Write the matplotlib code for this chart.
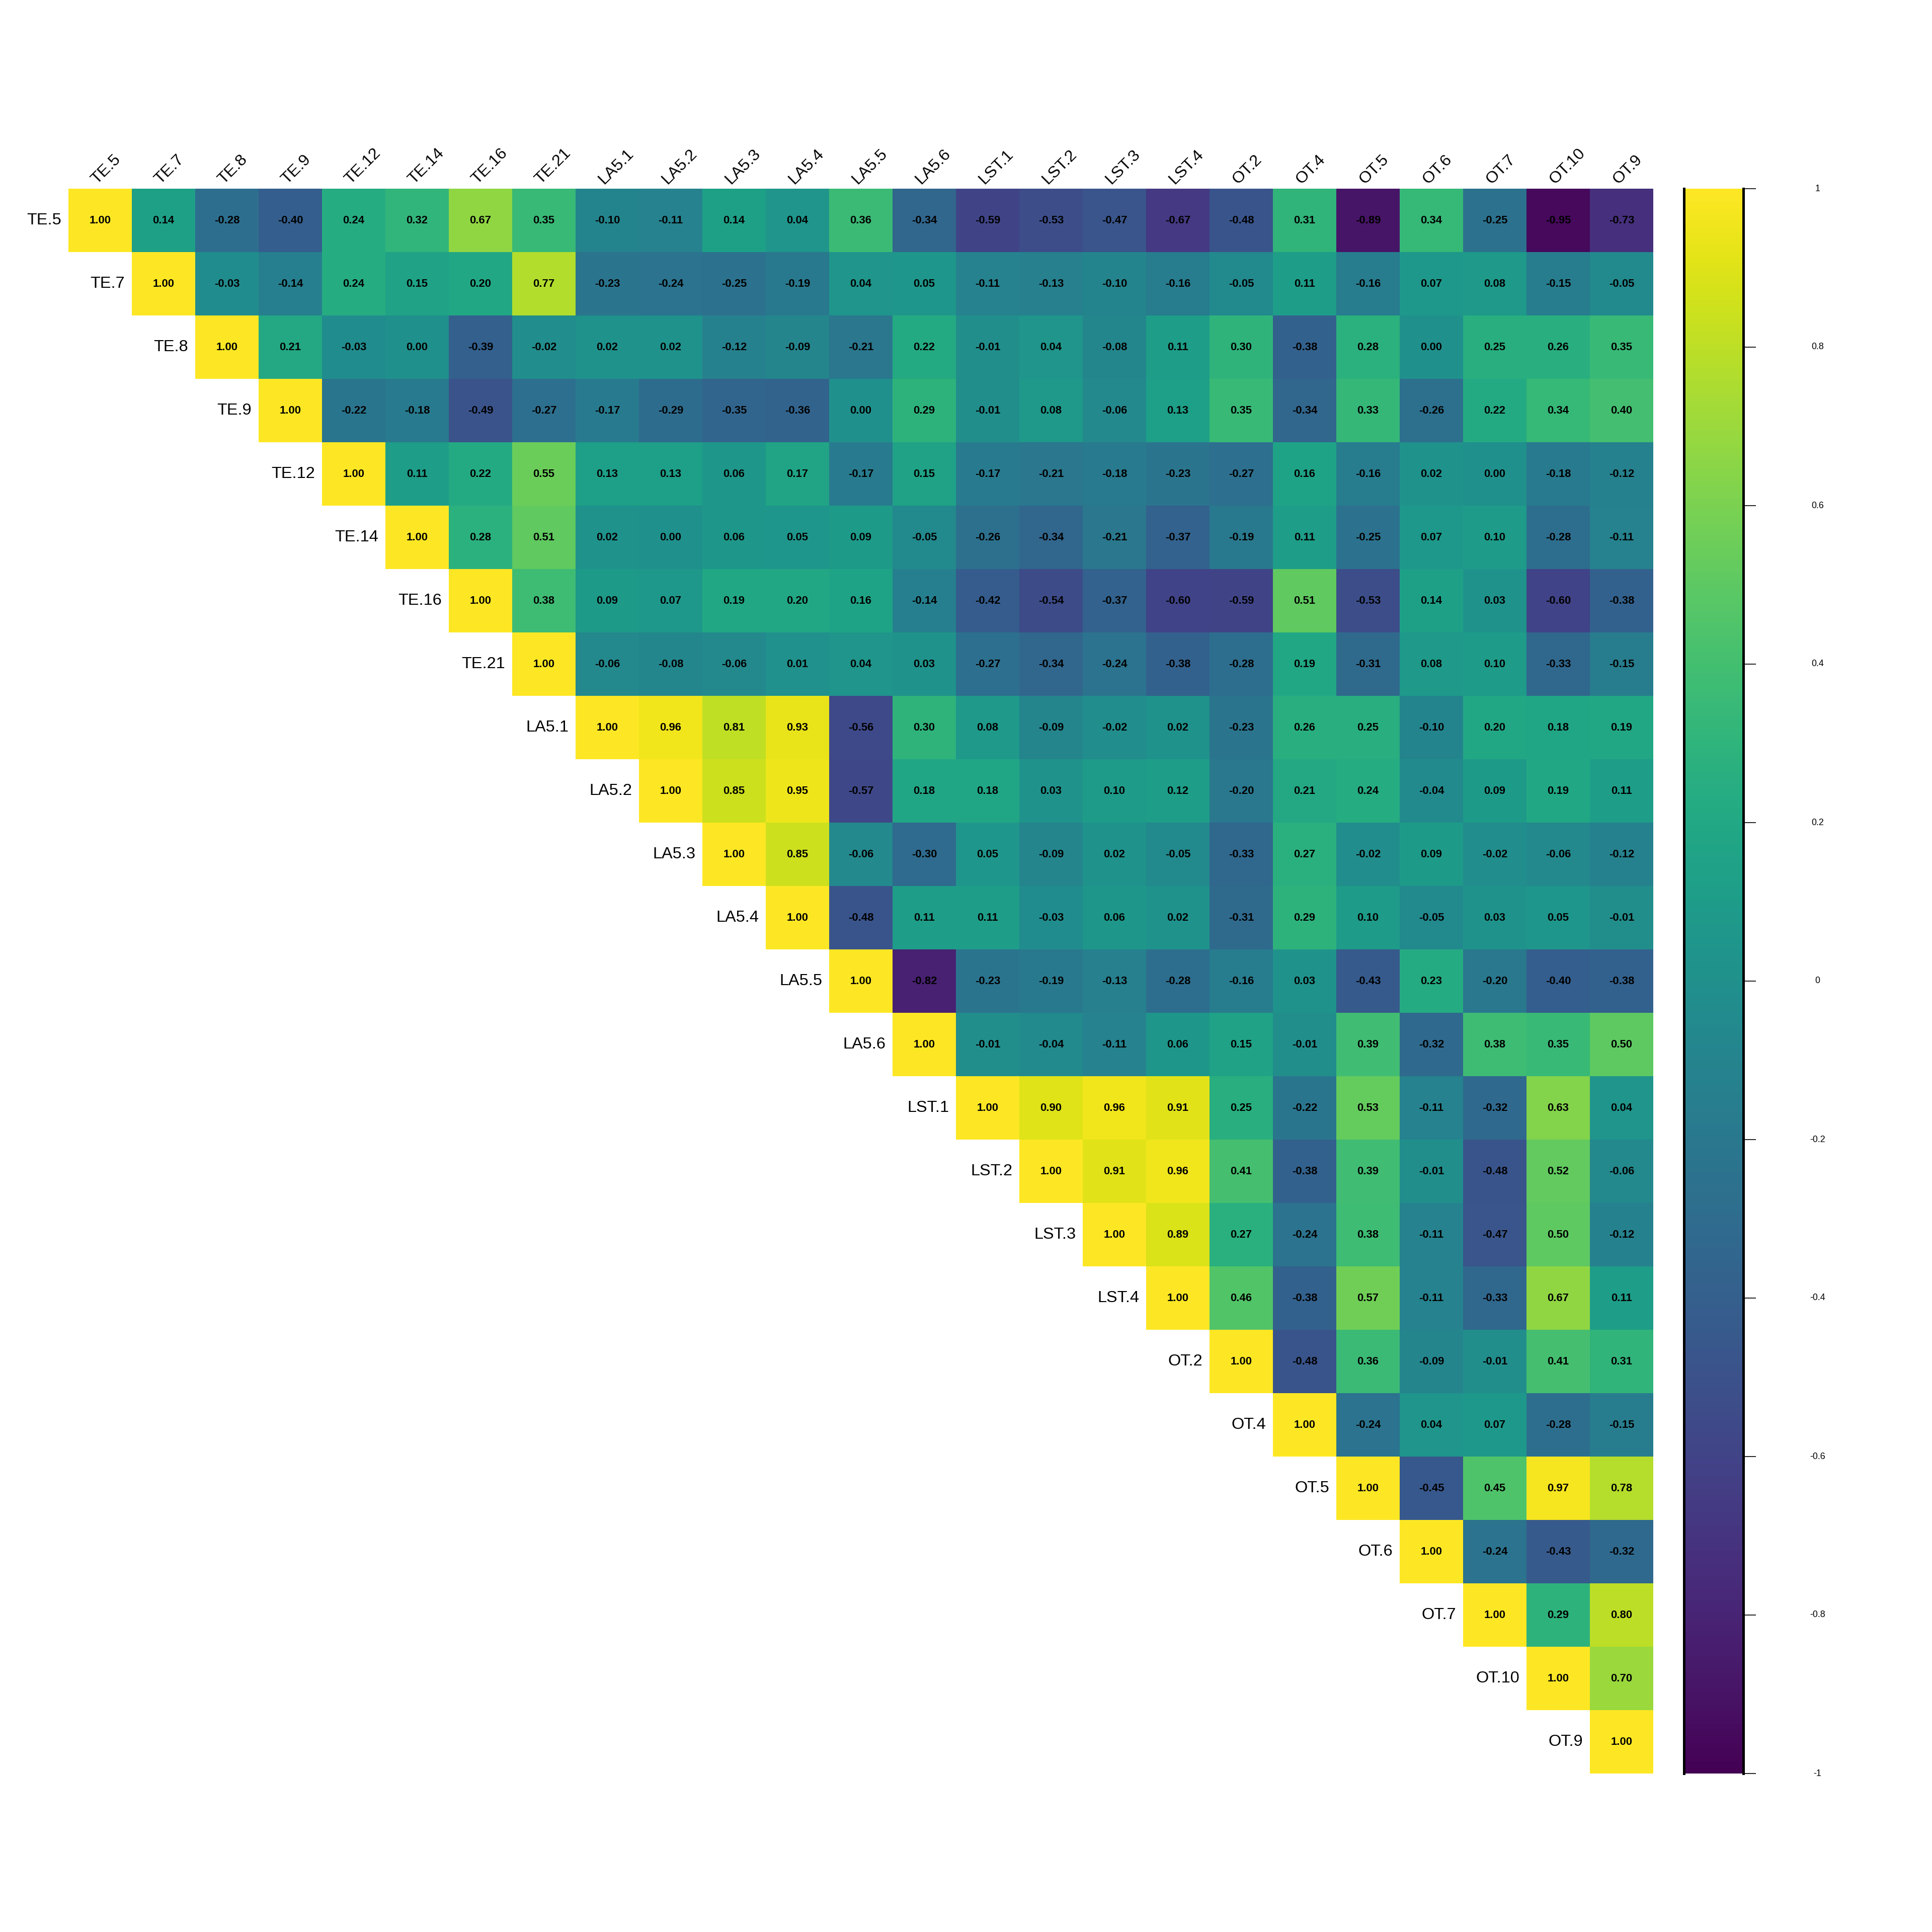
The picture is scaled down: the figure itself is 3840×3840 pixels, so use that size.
import numpy as np
import matplotlib
matplotlib.use("Agg")
import matplotlib.pyplot as plt
from matplotlib.colors import Normalize
from matplotlib.cm import ScalarMappable

plt.rcParams['font.family'] = ['Liberation Sans', 'DejaVu Sans']

# Noms des variables (ordre des lignes / colonnes)
variables = ["TE.5", "TE.7", "TE.8", "TE.9", "TE.12", "TE.14", "TE.16", "TE.21",
             "LA5.1", "LA5.2", "LA5.3", "LA5.4", "LA5.5", "LA5.6",
             "LST.1", "LST.2", "LST.3", "LST.4",
             "OT.2", "OT.4", "OT.5", "OT.6", "OT.7", "OT.10", "OT.9"]

# Triangle supérieur, ligne par ligne (à partir de la diagonale)
row_TE5 = [1.00, 0.14, -0.28, -0.40, 0.24, 0.32, 0.67, 0.35, -0.10, -0.11, 0.14, 0.04, 0.36,
           -0.34, -0.59, -0.53, -0.47, -0.67, -0.48, 0.31, -0.89, 0.34, -0.25, -0.95, -0.73]
row_TE7 = [1.00, -0.03, -0.14, 0.24, 0.15, 0.20, 0.77, -0.23, -0.24, -0.25, -0.19, 0.04,
           0.05, -0.11, -0.13, -0.10, -0.16, -0.05, 0.11, -0.16, 0.07, 0.08, -0.15, -0.05]
row_TE8 = [1.00, 0.21, -0.03, 0.00, -0.39, -0.02, 0.02, 0.02, -0.12, -0.09, -0.21,
           0.22, -0.01, 0.04, -0.08, 0.11, 0.30, -0.38, 0.28, 0.00, 0.25, 0.26, 0.35]
row_TE9 = [1.00, -0.22, -0.18, -0.49, -0.27, -0.17, -0.29, -0.35, -0.36, 0.00,
           0.29, -0.01, 0.08, -0.06, 0.13, 0.35, -0.34, 0.33, -0.26, 0.22, 0.34, 0.40]
row_TE12 = [1.00, 0.11, 0.22, 0.55, 0.13, 0.13, 0.06, 0.17, -0.17,
            0.15, -0.17, -0.21, -0.18, -0.23, -0.27, 0.16, -0.16, 0.02, 0.00, -0.18, -0.12]
row_TE14 = [1.00, 0.28, 0.51, 0.02, 0.00, 0.06, 0.05, 0.09,
            -0.05, -0.26, -0.34, -0.21, -0.37, -0.19, 0.11, -0.25, 0.07, 0.10, -0.28, -0.11]
row_TE16 = [1.00, 0.38, 0.09, 0.07, 0.19, 0.20, 0.16,
            -0.14, -0.42, -0.54, -0.37, -0.60, -0.59, 0.51, -0.53, 0.14, 0.03, -0.60, -0.38]
row_TE21 = [1.00, -0.06, -0.08, -0.06, 0.01, 0.04,
            0.03, -0.27, -0.34, -0.24, -0.38, -0.28, 0.19, -0.31, 0.08, 0.10, -0.33, -0.15]
row_LA51 = [1.00, 0.96, 0.81, 0.93, -0.56,
            0.30, 0.08, -0.09, -0.02, 0.02, -0.23, 0.26, 0.25, -0.10, 0.20, 0.18, 0.19]
row_LA52 = [1.00, 0.85, 0.95, -0.57,
            0.18, 0.18, 0.03, 0.10, 0.12, -0.20, 0.21, 0.24, -0.04, 0.09, 0.19, 0.11]
row_LA53 = [1.00, 0.85, -0.06, -0.30, 0.05, -0.09, 0.02, -0.05, -0.33, 0.27, -0.02, 0.09, -0.02, -0.06, -0.12]
row_LA54 = [1.00, -0.48, 0.11, 0.11, -0.03, 0.06, 0.02, -0.31, 0.29, 0.10, -0.05, 0.03, 0.05, -0.01]
row_LA55 = [1.00, -0.82, -0.23, -0.19, -0.13, -0.28, -0.16, 0.03, -0.43, 0.23, -0.20, -0.40, -0.38]
row_LA56 = [1.00, -0.01, -0.04, -0.11, 0.06, 0.15, -0.01, 0.39, -0.32, 0.38, 0.35, 0.50]
row_LST1 = [1.00, 0.90, 0.96, 0.91, 0.25, -0.22, 0.53, -0.11, -0.32, 0.63, 0.04]
row_LST2 = [1.00, 0.91, 0.96, 0.41, -0.38, 0.39, -0.01, -0.48, 0.52, -0.06]
row_LST3 = [1.00, 0.89, 0.27, -0.24, 0.38, -0.11, -0.47, 0.50, -0.12]
row_LST4 = [1.00, 0.46, -0.38, 0.57, -0.11, -0.33, 0.67, 0.11]
row_OT2 = [1.00, -0.48, 0.36, -0.09, -0.01, 0.41, 0.31]
row_OT4 = [1.00, -0.24, 0.04, 0.07, -0.28, -0.15]
row_OT5 = [1.00, -0.45, 0.45, 0.97, 0.78]
row_OT6 = [1.00, -0.24, -0.43, -0.32]
row_OT7 = [1.00, 0.29, 0.80]
row_OT10 = [1.00, 0.70]
row_OT9 = [1.00]

upper_rows = [row_TE5, row_TE7, row_TE8, row_TE9, row_TE12, row_TE14, row_TE16, row_TE21,
              row_LA51, row_LA52, row_LA53, row_LA54, row_LA55, row_LA56,
              row_LST1, row_LST2, row_LST3, row_LST4,
              row_OT2, row_OT4, row_OT5, row_OT6, row_OT7, row_OT10, row_OT9]

cbar_ticks = [-1, -0.8, -0.6, -0.4, -0.2, 0, 0.2, 0.4, 0.6, 0.8, 1]
cbar_labels = ["-1", "-0.8", "-0.6", "-0.4", "-0.2", "0", "0.2", "0.4", "0.6", "0.8", "1"]

# Construction de la matrice (triangle inférieur masqué)
n = len(variables)
mat = np.full((n, n), np.nan)
for i, vals in enumerate(upper_rows):
    mat[i, i:i + len(vals)] = vals
mat = np.ma.masked_invalid(mat)

fig = plt.figure(figsize=(12.8, 12.8), dpi=300)
ax = fig.add_axes([136 / 3840, 1 - 3525 / 3840, 3150 / 3840, 3150 / 3840])
cmap = plt.get_cmap("viridis")
norm = Normalize(vmin=-1, vmax=1)
ax.imshow(mat, cmap=cmap, norm=norm, interpolation="nearest", aspect="auto")
ax.set_xlim(-0.5, n - 0.5)
ax.set_ylim(n - 0.5, -0.5)
ax.axis("off")

# Coefficients dans les cases
for i in range(n):
    for j in range(i, n):
        ax.text(j, i, f"{mat[i, j]:.2f}", ha="center", va="center",
                fontsize=5.3, fontweight="bold", color="black")

# Étiquettes : lignes à gauche de la diagonale, colonnes en haut (45°)
for i, name in enumerate(variables):
    ax.text(i - 0.61, i, name, ha="right", va="center", fontsize=7.8, color="black")
    ax.text(i - 0.055, -0.565, name, ha="left", va="baseline", rotation=45,
            rotation_mode="anchor", fontsize=7.8, color="black")

# Légende de couleur
cax = fig.add_axes([3347 / 3840, 1 - 3525 / 3840, 118 / 3840, 3150 / 3840])
cb = fig.colorbar(ScalarMappable(norm=norm, cmap=cmap), cax=cax)
cb.outline.set_visible(False)
cax.plot([0, 0], [0, 1], color="black", lw=1.2, transform=cax.transAxes, clip_on=False)
cax.plot([1, 1], [0, 1], color="black", lw=1.2, transform=cax.transAxes, clip_on=False)
cb.set_ticks(cbar_ticks)
cb.set_ticklabels([""] * len(cbar_ticks))
cax.tick_params(axis="y", direction="out", length=6, width=0.4, color="black")
for t, lab in zip(cbar_ticks, cbar_labels):
    cax.text(2.25, t, lab, ha="center", va="center", fontsize=4.3,
             transform=cax.get_yaxis_transform())

fig.savefig("out.png", dpi=300, facecolor="white")
